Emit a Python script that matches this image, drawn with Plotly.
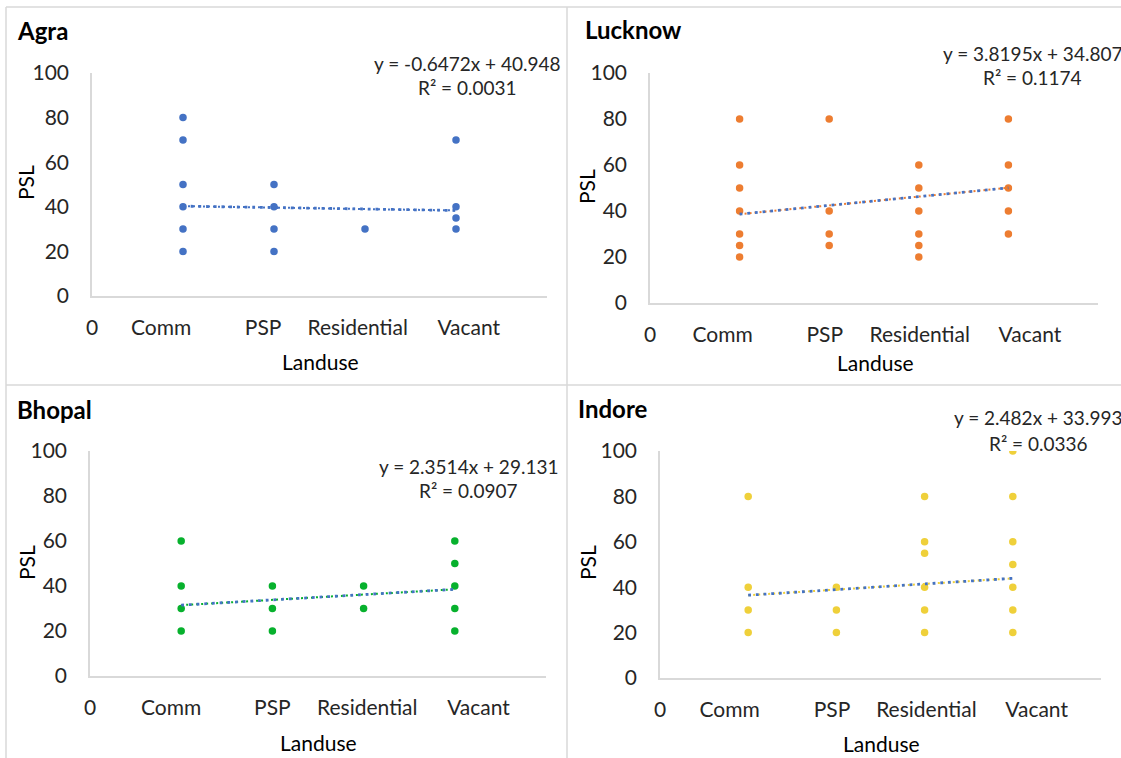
import plotly.graph_objects as go

W, H = 1121, 758

# Land-use categories (plotted at positions 1..4) and axis tick text
categories = ["Comm", "PSP", "Residential", "Vacant"]
tick_text = ["0", "Comm", "PSP", "Residential", "Vacant"]
y_ticks = [0, 20, 40, 60, 80, 100]

# PSL observations per city, grouped by land use
agra_comm = [80, 70, 50, 40, 30, 20]
agra_psp = [50, 40, 30, 20]
agra_res = [30]
agra_vacant = [70, 40, 35, 30]

lucknow_comm = [80, 60, 50, 40, 30, 25, 20]
lucknow_psp = [80, 40, 30, 25]
lucknow_res = [60, 50, 40, 30, 25, 20]
lucknow_vacant = [80, 60, 50, 40, 30]

bhopal_comm = [60, 40, 30, 20]
bhopal_psp = [40, 30, 20]
bhopal_res = [40, 30]
bhopal_vacant = [60, 50, 40, 30, 20]

indore_comm = [80, 40, 30, 20]
indore_psp = [40, 30, 20]
indore_res = [80, 60, 55, 40, 30, 20]
indore_vacant = [100, 80, 60, 50, 40, 30, 20]

# Linear trendline coefficients (slope, intercept) and R squared
agra_fit = (-0.6472, 40.948, 0.0031)
lucknow_fit = (3.8195, 34.807, 0.1174)
bhopal_fit = (2.3514, 29.131, 0.0907)
indore_fit = (2.482, 33.993, 0.0336)

FONT = "Lato"
TXT = "#262626"
GRID = "#d9d9d9"
TREND = "#4472C4"

panels = [
    dict(name="Agra", groups=[agra_comm, agra_psp, agra_res, agra_vacant], fit=agra_fit,
         color="#4472C4",
         xdom=(92, 547), ydom=(296, 73),
         tickpos=[0, 0.76, 1.88, 2.92, 4.14],
         title=(15, 30), psl=(25, 183), landuse=(320, 361),
         eq=(467, 63, 88)),
    dict(name="Lucknow", groups=[lucknow_comm, lucknow_psp, lucknow_res, lucknow_vacant], fit=lucknow_fit,
         color="#ED7D31",
         xdom=(650, 1098), ydom=(303, 73),
         tickpos=[0, 0.81, 1.95, 3.01, 4.24],
         title=(583, 29), psl=(586, 187), landuse=(875, 363),
         eq=(1032, 53, 77)),
    dict(name="Bhopal", groups=[bhopal_comm, bhopal_psp, bhopal_res, bhopal_vacant], fit=bhopal_fit,
         color="#07B12D",
         xdom=(90, 546), ydom=(676, 451),
         tickpos=[0, 0.89, 2.0, 3.04, 4.26],
         title=(15, 409), psl=(26, 563), landuse=(318, 742),
         eq=(468, 466, 490)),
    dict(name="Indore", groups=[indore_comm, indore_psp, indore_res, indore_vacant], fit=indore_fit,
         color="#EFD03A",
         xdom=(660, 1101), ydom=(678, 451),
         tickpos=[0, 0.79, 1.95, 3.02, 4.27],
         title=(576, 408), psl=(587, 563), landuse=(881, 743),
         eq=(1038, 417, 443)),
]


def px(x):
    return x / W


def py(y):
    return 1 - y / H


fig = go.Figure()
annotations = []
layout_axes = {}

for i, p in enumerate(panels, start=1):
    xa = "x" if i == 1 else f"x{i}"
    ya = "y" if i == 1 else f"y{i}"

    xs, ys = [], []
    for pos, vals in enumerate(p["groups"], start=1):
        xs += [pos] * len(vals)
        ys += vals
    fig.add_trace(go.Scatter(x=xs, y=ys, mode="markers", xaxis=xa, yaxis=ya,
                             marker=dict(color=p["color"], size=7.5, symbol="circle"),
                             showlegend=False, hoverinfo="skip"))

    m, b, r2 = p["fit"]
    tx = [1, 4]
    ty = [m * v + b for v in tx]
    fig.add_trace(go.Scatter(x=tx, y=ty, mode="lines", xaxis=xa, yaxis=ya,
                             line=dict(color=p["color"], width=2, dash="2px,3px"),
                             showlegend=False, hoverinfo="skip"))
    fig.add_trace(go.Scatter(x=tx, y=ty, mode="lines", xaxis=xa, yaxis=ya,
                             line=dict(color=TREND, width=2.8, dash="2.8px,4.9px"),
                             showlegend=False, hoverinfo="skip"))

    key = "" if i == 1 else str(i)
    layout_axes[f"xaxis{key}"] = dict(
        domain=[px(p["xdom"][0]), px(p["xdom"][1])], range=[0, 5],
        anchor=ya, showline=True, linecolor=GRID, linewidth=1.5,
        showgrid=False, zeroline=False, ticks="", automargin=False,
        tickvals=p["tickpos"], ticktext=tick_text,
        tickfont=dict(family=FONT, size=21, color=TXT),
        ticklabelstandoff=12, fixedrange=True)
    layout_axes[f"yaxis{key}"] = dict(
        domain=[py(p["ydom"][0]), py(p["ydom"][1])], range=[0, 100],
        anchor=xa, showline=True, linecolor=GRID, linewidth=1.5,
        showgrid=False, zeroline=False, ticks="", automargin=False,
        tickvals=y_ticks, tickfont=dict(family=FONT, size=21, color=TXT),
        ticklabelstandoff=17, fixedrange=True)

    annotations.append(dict(text=f"<b>{p['name']}</b>", x=px(p["title"][0]), y=py(p["title"][1]),
                            xref="paper", yref="paper", xanchor="left", yanchor="middle",
                            showarrow=False, font=dict(family=FONT, size=24, color="#000000")))
    annotations.append(dict(text="PSL", x=px(p["psl"][0]), y=py(p["psl"][1]), textangle=-90,
                            xref="paper", yref="paper", xanchor="center", yanchor="middle",
                            showarrow=False, font=dict(family=FONT, size=21, color="#000000")))
    annotations.append(dict(text="Landuse", x=px(p["landuse"][0]), y=py(p["landuse"][1]),
                            xref="paper", yref="paper", xanchor="center", yanchor="middle",
                            showarrow=False, font=dict(family=FONT, size=21, color="#000000")))
    sign = "+" if b >= 0 else "-"
    eq_text = f"y = {m:g}x {sign} {abs(b):g}"
    ex, ey1, ey2 = p["eq"]
    annotations.append(dict(text=eq_text, x=px(ex), y=py(ey1),
                            xref="paper", yref="paper", xanchor="center", yanchor="middle",
                            showarrow=False, font=dict(family=FONT, size=19, color=TXT)))
    annotations.append(dict(text=f"R² = {r2:.4f}", x=px(ex), y=py(ey2),
                            xref="paper", yref="paper", xanchor="center", yanchor="middle",
                            showarrow=False, font=dict(family=FONT, size=19, color=TXT)))

# Panel frame lines
shapes = []
for x0, y0, x1, y1 in [(6, 7, 1121, 7), (6, 7, 6, 758), (567, 7, 567, 758), (6, 385, 1121, 385)]:
    shapes.append(dict(type="line", xref="paper", yref="paper",
                       x0=px(x0), y0=py(y0), x1=px(x1), y1=py(y1),
                       line=dict(color=GRID, width=1.5)))

fig.update_layout(width=W, height=H,
                  margin=dict(l=0, r=0, t=0, b=0, pad=0, autoexpand=False),
                  paper_bgcolor="white", plot_bgcolor="white",
                  annotations=annotations, shapes=shapes,
                  font=dict(family=FONT, color=TXT), **layout_axes)

# Let the fixed-size figure sit flush in the page
fig.write_html("out.html",
               post_script="document.body.style.margin='0';document.body.style.overflow='hidden';")
